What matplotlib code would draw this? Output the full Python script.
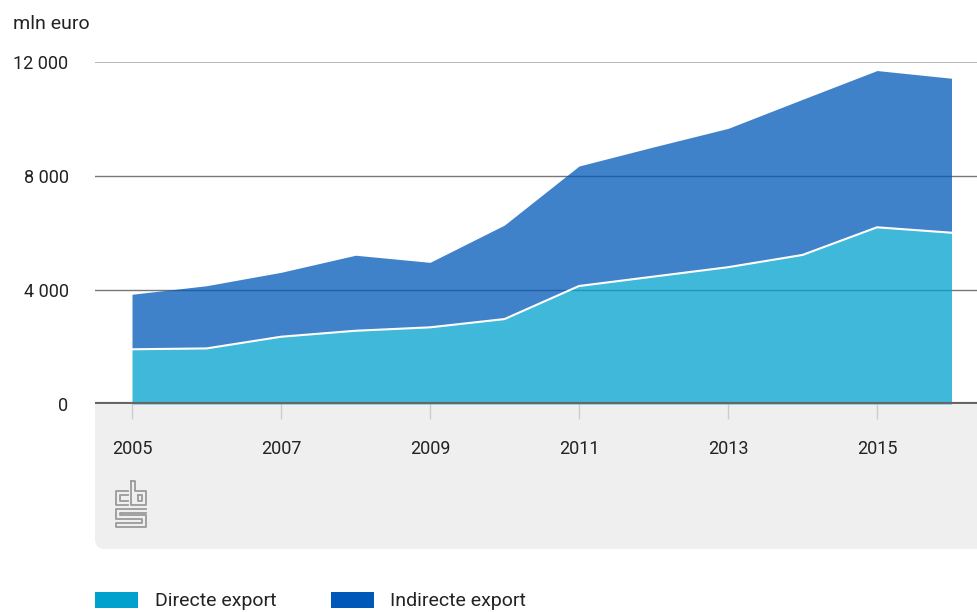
import numpy as np
import matplotlib.pyplot as plt
from matplotlib.patches import FancyBboxPatch, Rectangle
from matplotlib.lines import Line2D

plt.rcParams['font.family'] = ['Roboto', 'DejaVu Sans']

# data (mln euro)
jaren = [2005, 2006, 2007, 2008, 2009, 2010, 2011, 2012, 2013, 2014, 2015, 2016]
directe_export = [1920, 1950, 2360, 2570, 2690, 2980, 4140, 4470, 4800, 5230, 6200, 6010]
indirecte_export = [1930, 2200, 2260, 2650, 2280, 3300, 4210, 4550, 4870, 5460, 5500, 5420]
y_ticks = [0, 4000, 8000, 12000]
y_labels = ["0", "4 000", "8 000", "12 000"]
x_ticks = [2005, 2007, 2009, 2011, 2013, 2015]

W, H = 977, 612
kleur_direct = "#00a1cd"
kleur_indirect = "#0058b8"

fig = plt.figure(figsize=(W / 100, H / 100), dpi=100)


def fx(px):
    return px / W


def fy(py):
    return 1 - py / H


# grey panel under the x axis
panel = FancyBboxPatch((fx(95), fy(549)), fx(1000) - fx(95), fy(394) - fy(549),
                       boxstyle="round,pad=0,rounding_size=%f" % (10 / W),
                       mutation_aspect=W / H, transform=fig.transFigure,
                       facecolor="#efefef", edgecolor="none", zorder=-2)
fig.patches.append(panel)

ax = fig.add_axes([fx(95), fy(404), fx(977) - fx(95), fy(62) - fy(404)])
ax.set_zorder(1)

x = np.array(jaren)
d = np.array(directe_export)
t = d + np.array(indirecte_export)
ax.fill_between(x, 0, d, color=kleur_direct, alpha=0.75, lw=0, zorder=2)
ax.fill_between(x, d, t, color=kleur_indirect, alpha=0.75, lw=0, zorder=2)
ax.plot(x, d, color="white", lw=1.5, zorder=3)

ax.set_xlim(2005 - 37 / 74.5, 2005 + 845 / 74.5)
ax.set_ylim(0, 12000)

ax.axhline(12000, color="#aaaaaa", lw=1.2, zorder=1)
for v in y_ticks[1:-1]:
    ax.axhline(v, color="#777777", lw=1, zorder=1)
ax.axhline(0, color="#666666", lw=3, zorder=4)

for s in ax.spines.values():
    s.set_visible(False)

ax.set_yticks(y_ticks)
ax.set_yticklabels(y_labels)
ax.tick_params(axis="y", length=0, pad=19, labelsize=13, labelcolor="#222222")
ax.set_xticks(x_ticks)
ax.set_xticklabels([str(v) for v in x_ticks])
ax.tick_params(axis="x", length=11, width=1, color="#cccccc", pad=15,
               labelsize=13, labelcolor="#222222")

fig.text(fx(13), fy(24), "mln euro", fontsize=14, color="#222222", va="center", ha="left")

# cbs logo (simplified)
logo = [
    [(128, 491), (116, 491), (116, 505), (128, 505)],
    [(128, 495), (120, 495), (120, 501), (128, 501)],
    [(131, 481), (131, 505), (146, 505), (146, 491), (135, 491), (135, 481), (131, 481)],
    [(138, 495), (142, 495), (142, 501), (138, 501), (138, 495)],
    [(146, 509), (116, 509), (116, 519), (142, 519), (142, 523), (116, 523), (116, 527),
     (146, 527), (146, 515), (120, 515), (120, 513), (146, 513)],
]
for pts in logo:
    xs = [fx(p[0]) for p in pts]
    ys = [fy(p[1]) for p in pts]
    fig.add_artist(Line2D(xs, ys, color="#9a9a9a", lw=1.3, transform=fig.transFigure))

# legend
fig.patches.append(Rectangle((fx(95), fy(608)), fx(43), 16 / H, transform=fig.transFigure,
                             facecolor=kleur_direct, edgecolor="none"))
fig.text(fx(155), fy(601), "Directe export", fontsize=14, color="#222222", va="center")
fig.patches.append(Rectangle((fx(331), fy(608)), fx(43), 16 / H, transform=fig.transFigure,
                             facecolor=kleur_indirect, edgecolor="none"))
fig.text(fx(390), fy(601), "Indirecte export", fontsize=14, color="#222222", va="center")

fig.savefig("out.png", dpi=100)
